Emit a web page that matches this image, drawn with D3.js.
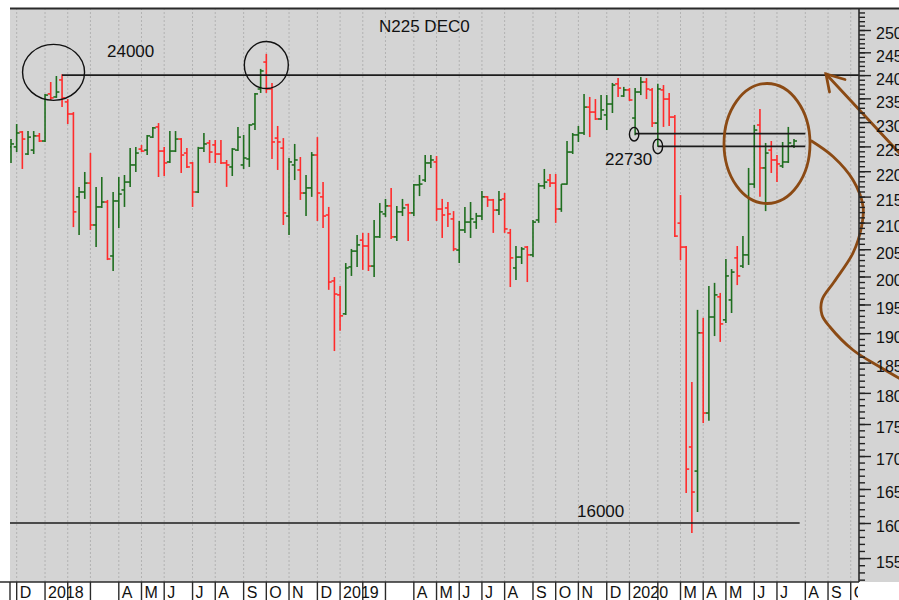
<!DOCTYPE html>
<html lang="en">
<head>
  <meta charset="UTF-8" />
  <title>N225 DEC0 weekly bars</title>
  <script src="https://d3js.org/d3.v7.min.js"></script>
  <style>
    body { margin: 0; background: #fff; font-family: "Liberation Sans", Arial, sans-serif; }
    svg { display: block; }
  </style>
</head>
<body>
  <svg id="chart" width="899" height="600"></svg>

  <script>
    // weekly bars, dated by the Friday that ends the week
    // (Golden Week 2019 had no session at all, so that week is skipped)
    const firstWeek = "2017-11-24";
    const lastAxisWeek = "2020-10-09";
    const closedWeeks = ["2019-05-03"];

    const open = [
      22490, 22490, 22795, 22345, 22425, 22715, 22610, 23595, 23530, 23895,
      23425, 23170, 21495, 21590, 21765, 20955, 21300, 21395, 20375, 21415,
      21630, 21785, 22125, 22445, 22425, 22690, 22900, 22405, 22185, 22405,
      22650, 22365, 22165, 21590, 22465, 22570, 22530, 22345, 22165, 22085,
      22425, 22125, 22245, 22960, 23700, 24285, 23700, 22670, 22465, 21125,
      22125, 22025, 21570, 21670, 22325, 21495, 21145, 19920, 19670, 19335,
      20175, 20465, 20670, 20560, 20190, 20730, 21165, 21320, 20730, 21205,
      21340, 21185, 21730, 21825, 22165, 22185, 21260, 21280, 21070, 20485,
      20860, 21010, 21010, 21125, 21495, 21435, 21240, 21455, 20805, 20155,
      20355, 20540, 20395, 21050, 21710, 21825, 21765, 21260, 21745, 22385,
      22735, 22775, 23315, 23210, 23065, 23150, 23380, 23810, 23550, 23680,
      23085, 23635, 23850, 23680, 22980, 23680, 23485, 23105, 20990, 20540,
      17140, 16770, 19005, 17675, 19280, 19635, 19230, 19580, 20340, 20190,
      20395, 21745, 22940, 22065, 22425, 22225, 22105, 22185, 22510
    ];
    const high = [
      22650, 22960, 22815, 22815, 22815, 22775, 23595, 23850, 23980, 24020,
      23485, 23210, 21690, 21985, 22365, 21690, 21885, 21435, 21590, 21885,
      21925, 22465, 22490, 22530, 22735, 22900, 22980, 22490, 22815, 22815,
      22670, 22465, 22185, 22490, 22775, 22630, 22630, 22630, 22225, 22465,
      22900, 22735, 22960, 23615, 24135, 24465, 23830, 22920, 22670, 22265,
      22550, 22285, 21925, 22385, 22690, 21785, 21300, 19990, 19830, 20245,
      20505, 20765, 20805, 20805, 21050, 21375, 21455, 21670, 21320, 21455,
      21360, 21745, 21925, 22325, 22325, 22305, 21455, 21395, 21220, 21030,
      21300, 21395, 21185, 21610, 21510, 21455, 21610, 21570, 20880, 20560,
      20540, 20560, 21050, 21765, 22045, 21945, 21945, 21745, 22610, 22775,
      22920, 23595, 23530, 23485, 23570, 23570, 23830, 23935, 23745, 23720,
      23720, 23960, 23935, 23720, 23810, 23785, 23615, 23150, 21530, 20560,
      18180, 19405, 19265, 19830, 19885, 19705, 20320, 20135, 20560, 20745,
      22065, 22940, 23275, 22570, 22610, 22325, 22590, 22900, 22650
    ];
    const low = [
      22165, 22385, 22045, 22325, 22345, 22590, 22590, 23465, 23510, 23315,
      22960, 20915, 20765, 21455, 20860, 20540, 21280, 20300, 20100, 20900,
      21300, 21690, 21985, 22385, 22325, 22670, 21885, 21905, 22165, 22385,
      21965, 22065, 21300, 21570, 22385, 22165, 22165, 22145, 21690, 21905,
      22405, 22045, 22085, 22835, 23615, 23615, 22245, 22025, 20955, 20765,
      21825, 21435, 21125, 21495, 21030, 20900, 19760, 18695, 19040, 19315,
      20010, 20175, 20120, 20100, 19990, 20710, 21105, 20690, 20655, 21125,
      20655, 21125, 21510, 21785, 22065, 21030, 20710, 20915, 20465, 20245,
      20805, 20710, 20880, 21050, 21300, 20805, 21145, 20805, 19810, 19935,
      20228, 19900, 20355, 20995, 21650, 21690, 20995, 21205, 21730, 22345,
      22590, 22735, 22690, 23045, 23045, 22835, 23190, 23530, 23530, 23445,
      22730, 23570, 23485, 22900, 22495, 22900, 22920, 20730, 20300, 16440,
      15855, 16160, 17515, 17550, 18950, 18850, 19175, 19350, 19845, 20155,
      20210, 21670, 21495, 21220, 21965, 21785, 22065, 22165, 22465
    ];
    const close = [
      22550, 22775, 22650, 22690, 22715, 22610, 23570, 23510, 23635, 23510,
      23170, 21205, 21590, 21765, 20955, 21300, 21395, 20320, 21415, 21550,
      21785, 22125, 22365, 22405, 22715, 22880, 22405, 22165, 22405, 22650,
      22325, 22085, 21590, 22465, 22550, 22385, 22345, 22165, 22125, 22445,
      22690, 22265, 22940, 23595, 24090, 23700, 22590, 22590, 21185, 22185,
      22225, 21570, 21670, 22325, 21570, 21125, 19900, 19685, 19300, 20155,
      20465, 20580, 20560, 20190, 20730, 21205, 21320, 20730, 21205, 21280,
      21185, 21730, 21745, 22165, 22225, 21260, 21145, 21165, 20505, 20860,
      21010, 21070, 21125, 21495, 21435, 21240, 21435, 20880, 20340, 20355,
      20505, 20395, 21010, 21710, 21785, 21765, 21260, 21745, 22385, 22735,
      22775, 23315, 23210, 23065, 23255, 23380, 23785, 23720, 23680, 23465,
      23635, 23850, 23700, 22980, 23700, 23485, 23105, 20745, 20540, 16800,
      16455, 19005, 17675, 19280, 19670, 19160, 20010, 20080, 20010, 20395,
      21745, 22835, 22065, 22365, 22225, 22145, 22185, 22570, 22610
    ];

    // one label per month boundary, Dec 2017 .. Oct 2020 (blank where the year text crowds it out)
    const monthLabels = [
      "D", "2018", "", "", "A", "M", "J", "J", "A", "S", "O", "N",
      "D", "2019", "", "", "A", "M", "J", "J", "A", "S", "O", "N",
      "D", "2020", "", "M", "A", "M", "J", "J", "A", "S", "O"
    ];

    // hand-drawn levels on the chart
    const resistance = 24000;
    const support = 16000;
    const gapUpper = 22760;
    const gapLower = 22500;
    const gapLabel = "22730";

    const green = "#1f6e1f";
    const red = "#ff2b2b";
    const brown = "#8b4a14";
    const grey = "#d4d4d4";

    const svg = d3.select("#chart");
    const plot = { left: 10, right: 859, top: 8, bottom: 582 };

    const parse = d3.utcParse("%Y-%m-%d");
    const fmt = d3.utcFormat("%Y-%m-%d");
    const weeks = d3.utcFriday
      .range(parse(firstWeek), d3.utcDay.offset(parse(lastAxisWeek), 1))
      .filter(d => !closedWeeks.includes(fmt(d)));

    const x = d3.scalePoint()
      .domain(weeks.map(fmt))
      .range([11, 856.4]);

    const y = d3.scaleLog()
      .domain([16000, 25000])
      .range([523, 30]);

    const bars = open.map((o, i) => ({
      key: fmt(weeks[i]), o: o, h: high[i], l: low[i], c: close[i]
    }));

    // month boundaries = first week whose Friday falls in a new month
    const monthX = weeks
      .filter((d, i) => i > 0 && d.getUTCMonth() !== weeks[i - 1].getUTCMonth())
      .map(d => x(fmt(d)));

    // backgrounds: grey chart + axis panel, white month strip underneath
    svg.append("rect").attr("width", 899).attr("height", 600).attr("fill", "#fff");
    svg.append("rect")
      .attr("x", plot.left).attr("y", plot.top)
      .attr("width", 899 - plot.left).attr("height", plot.bottom - plot.top)
      .attr("fill", grey);

    const defs = svg.append("defs");
    defs.append("clipPath").attr("id", "plotClip")
      .append("rect")
      .attr("x", plot.left).attr("y", plot.top)
      .attr("width", plot.right - plot.left).attr("height", plot.bottom - plot.top);
    defs.append("clipPath").attr("id", "stripClip")
      .append("rect")
      .attr("x", 0).attr("y", plot.bottom)
      .attr("width", plot.right - 1).attr("height", 600 - plot.bottom);

    // dotted month grid
    svg.append("g")
      .selectAll("line")
      .data(monthX)
      .join("line")
      .attr("x1", d => d).attr("x2", d => d)
      .attr("y1", plot.top).attr("y2", plot.bottom)
      .attr("stroke", "#b2b2b2")
      .attr("stroke-dasharray", "2,2");

    // title
    svg.append("text")
      .attr("x", 379).attr("y", 32)
      .attr("font-size", 17).attr("fill", "#111")
      .text("N225 DEC0");

    // OHLC bars
    const gBars = svg.append("g").attr("clip-path", "url(#plotClip)");
    const bar = gBars.selectAll("g.bar")
      .data(bars)
      .join("g")
      .attr("class", "bar")
      .attr("stroke", d => d.c >= d.o ? green : red)
      .attr("stroke-width", 1.6);

    bar.append("line")
      .attr("x1", d => x(d.key)).attr("x2", d => x(d.key))
      .attr("y1", d => y(d.h)).attr("y2", d => y(d.l));
    bar.append("line")
      .attr("x1", d => x(d.key) - 3).attr("x2", d => x(d.key))
      .attr("y1", d => y(d.o)).attr("y2", d => y(d.o));
    bar.append("line")
      .attr("x1", d => x(d.key)).attr("x2", d => x(d.key) + 3)
      .attr("y1", d => y(d.c)).attr("y2", d => y(d.c));

    // black annotations
    const wk = i => x(fmt(weeks[i]));
    const levels = svg.append("g").attr("stroke", "#1c1c1c").attr("stroke-width", 1.8);

    levels.append("line")
      .attr("x1", wk(9)).attr("x2", plot.right)
      .attr("y1", y(resistance)).attr("y2", y(resistance));
    levels.append("line")
      .attr("x1", plot.left).attr("x2", wk(139))
      .attr("y1", y(support)).attr("y2", y(support))
      .attr("stroke-width", 1.4);
    levels.append("line")
      .attr("x1", wk(110)).attr("x2", wk(140))
      .attr("y1", y(gapUpper)).attr("y2", y(gapUpper));
    levels.append("line")
      .attr("x1", wk(114)).attr("x2", wk(140))
      .attr("y1", y(gapLower)).attr("y2", y(gapLower));

    const rings = svg.append("g").attr("fill", "none").attr("stroke", "#111").attr("stroke-width", 1.4);
    rings.append("ellipse")
      .attr("cx", (wk(7) + wk(8)) / 2).attr("cy", y(24060))
      .attr("rx", 31).attr("ry", 28);
    rings.append("ellipse")
      .attr("cx", wk(45)).attr("cy", y(24220))
      .attr("rx", 22).attr("ry", 23.5);
    rings.append("ellipse")
      .attr("cx", wk(110) - 1).attr("cy", y(gapUpper) + 0.5)
      .attr("rx", 4.7).attr("ry", 6.8);
    rings.append("ellipse")
      .attr("cx", wk(114)).attr("cy", y(gapLower))
      .attr("rx", 4.8).attr("ry", 7.3);

    const annText = svg.append("g").attr("font-size", 17).attr("fill", "#111");
    annText.append("text").attr("x", 107).attr("y", 57).text(String(resistance));
    annText.append("text").attr("x", 605).attr("y", 165).text(gapLabel);
    annText.append("text").attr("x", 577).attr("y", 517).text(String(support));

    // brown hand-drawn marks
    const gBrown = svg.append("g")
      .attr("fill", "none").attr("stroke", brown)
      .attr("stroke-width", 2.8).attr("stroke-linecap", "round");

    gBrown.append("ellipse")
      .attr("cx", 767).attr("cy", 143.5).attr("rx", 43).attr("ry", 60);

    const brownStroke = [
      [811.5, 141], [833, 156.5], [853, 180], [863, 206], [861.5, 227],
      [853, 253], [834, 282], [822, 300], [822, 315], [830, 327],
      [853, 350], [880, 367], [904, 381]
    ];
    gBrown.append("path")
      .attr("d", d3.line().curve(d3.curveCatmullRom)(brownStroke));

    const arrow = [[904, 158], [826, 74]];
    gBrown.append("path").attr("d", d3.line()(arrow));
    gBrown.append("path").attr("d", d3.line()([[845, 79.5], [826, 74], [829.5, 92]]));

    // right price axis (log)
    const minorTicks = d3.range(15200, 25500, 100)
      .filter(v => y(v) > plot.top + 1 && y(v) < plot.bottom - 1);
    const majorTicks = d3.range(15500, 25001, 500);

    const gAxis = svg.append("g").attr("transform", `translate(${plot.right},0)`);
    gAxis.call(d3.axisRight(y).tickValues(minorTicks).tickSize(6).tickFormat(""))
      .call(g => g.select(".domain").remove());
    const gMajor = svg.append("g").attr("transform", `translate(${plot.right},0)`);
    gMajor.call(d3.axisRight(y).tickValues(majorTicks).tickSize(12).tickPadding(5).tickFormat(d3.format("d")))
      .call(g => g.select(".domain").remove());
    svg.selectAll(".tick line").attr("stroke", "#222").attr("stroke-width", 1.4);
    gMajor.selectAll("text")
      .attr("font-family", "Liberation Sans, Arial, sans-serif")
      .attr("font-size", 16)
      .attr("fill", "#111")
      .attr("dy", "0.56em");

    // frame lines
    const frame = svg.append("g").attr("stroke", "#2a2a2a");
    frame.append("line")
      .attr("x1", plot.left).attr("x2", 899)
      .attr("y1", plot.top + 0.5).attr("y2", plot.top + 0.5)
      .attr("stroke-width", 2);
    frame.append("line")
      .attr("x1", plot.right).attr("x2", plot.right)
      .attr("y1", plot.top).attr("y2", plot.bottom)
      .attr("stroke-width", 1.6);
    frame.append("line")
      .attr("x1", 0).attr("x2", plot.right)
      .attr("y1", plot.bottom).attr("y2", plot.bottom)
      .attr("stroke-width", 1.6);

    // month strip (clipped at the price axis, like the source)
    const gMonths = svg.append("g").attr("clip-path", "url(#stripClip)");
    gMonths.selectAll("text")
      .data(monthX)
      .join("text")
      .attr("x", d => d + 3)
      .attr("y", 598)
      .attr("font-size", 16)
      .attr("fill", "#111")
      .text((d, i) => monthLabels[i] || "");
    gMonths.selectAll("line")
      .data([plot.left].concat(monthX))
      .join("line")
      .attr("x1", d => d).attr("x2", d => d)
      .attr("y1", plot.bottom).attr("y2", 600)
      .attr("stroke", "#2a2a2a")
      .attr("stroke-width", 1.4);
  </script>
</body>
</html>
